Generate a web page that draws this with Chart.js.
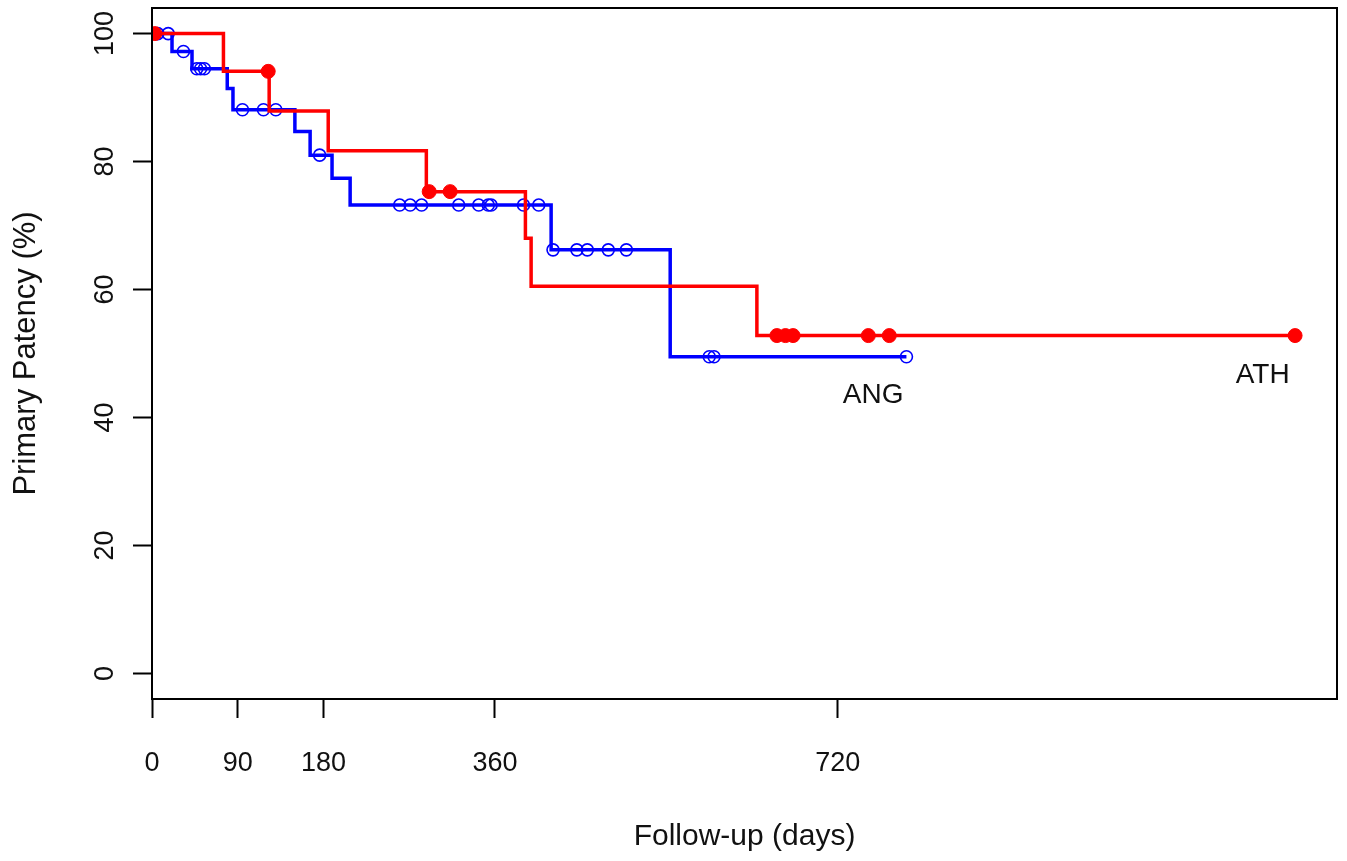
<!DOCTYPE html>
<html><head><meta charset="utf-8">
<script src="https://cdn.jsdelivr.net/npm/chart.js@4.4.0/dist/chart.umd.min.js"></script>
<style>html,body{margin:0;padding:0;background:#fff;}#wrap{width:1347px;height:861px;}</style>
</head><body><div id="wrap"><canvas id="c" width="1347" height="861"></canvas></div>
<script>
// ---- data ----
const xTickValues = [0, 90, 180, 360, 720];
const yTickValues = [0, 20, 40, 60, 80, 100];

const athEventDays = [0, 75, 123, 185, 288, 392, 398, 635, 1200];
const athSurvival  = [100, 94.1, 87.9, 81.7, 75.3, 68.0, 60.5, 52.8, 52.8];
const athCensorDays = [3, 122, 291, 313, 656, 665, 673, 752, 774, 1200];

const angEventDays = [0, 21, 42, 79, 85, 150, 166, 189, 208, 419, 544, 792];
const angSurvival  = [100, 97.2, 94.5, 91.4, 88.1, 84.7, 81.0, 77.4, 73.2, 66.2, 49.5, 49.5];
const angCensorDays = [6, 17, 33, 47, 51, 55, 95, 117, 130, 176, 260, 271, 283, 322, 343, 353, 356, 390, 406, 421, 446, 457, 479, 498, 585, 590, 792];

const groupNames = ['ANG', 'ATH'];

// ---- helpers ----
function stepPoints(days, surv) { return days.map((d, i) => ({x: d, y: surv[i]})); }
function survAt(days, surv, t) {
  let s = surv[0];
  for (let i = 0; i < days.length; i++) { if (days[i] <= t) s = surv[i]; }
  return s;
}
function censorPoints(cdays, days, surv) { return cdays.map(t => ({x: t, y: survAt(days, surv, t)})); }

const FONT = "'Liberation Sans', Arial, sans-serif";
const RED = '#ff0000', BLUE = '#0000ff';

const boxAndLabels = {
  id: 'boxAndLabels',
  afterDraw(chart) {
    const {ctx, chartArea: a, scales: {x, y}} = chart;
    ctx.save();
    ctx.strokeStyle = '#000';
    ctx.lineWidth = 2;
    ctx.strokeRect(a.left, a.top, a.right - a.left, a.bottom - a.top);
    ctx.fillStyle = '#111';
    ctx.font = "28px " + FONT;
    ctx.textAlign = 'center';
    ctx.textBaseline = 'middle';
    ctx.fillText(groupNames[0], x.getPixelForValue(757), y.getPixelForValue(43.4));
    ctx.fillText(groupNames[1], x.getPixelForValue(1166), y.getPixelForValue(46.6));
    ctx.restore();
  }
};

function noPad(s) { s.paddingTop = 0; s.paddingBottom = 0; s.paddingLeft = 0; s.paddingRight = 0; }

new Chart(document.getElementById('c'), {
  type: 'line',
  data: {
    datasets: [
      { label: 'ATH censored', data: censorPoints(athCensorDays, athEventDays, athSurvival), showLine: false,
        pointStyle: 'circle', pointRadius: 7, pointBackgroundColor: RED, pointBorderColor: RED, pointBorderWidth: 1, order: 0 },
      { label: 'ATH', data: stepPoints(athEventDays, athSurvival), stepped: 'before', borderColor: RED,
        borderWidth: 3.5, pointRadius: 0, fill: false, order: 1 },
      { label: 'ANG censored', data: censorPoints(angCensorDays, angEventDays, angSurvival), showLine: false,
        pointStyle: 'circle', pointRadius: 6, pointBackgroundColor: 'rgba(0,0,0,0)', pointBorderColor: BLUE, pointBorderWidth: 1.6, order: 2 },
      { label: 'ANG', data: stepPoints(angEventDays, angSurvival), stepped: 'before', borderColor: BLUE,
        borderWidth: 3.5, pointRadius: 0, fill: false, order: 3 }
    ]
  },
  options: {
    responsive: false,
    animation: false,
    devicePixelRatio: 1,
    layout: { padding: { left: 0, right: 10, top: 8, bottom: 0 } },
    plugins: { legend: { display: false }, tooltip: { enabled: false } },
    scales: {
      x: {
        type: 'linear', min: 0, max: 1244,
        afterBuildTicks: s => { s.ticks = xTickValues.map(v => ({value: v})); },
        afterFit: s => { s.height = 162; noPad(s); },
        grid: { drawOnChartArea: false, drawTicks: true, tickLength: 19, tickWidth: 2, tickColor: '#000' },
        border: { display: true, color: '#000', width: 2 },
        ticks: { font: { family: FONT, size: 27 }, color: '#111', padding: 29, maxRotation: 0, autoSkip: false },
        title: { display: true, text: 'Follow-up (days)', color: '#111', font: { family: FONT, size: 30 }, padding: { top: 0, bottom: 6 } }
      },
      y: {
        type: 'linear', min: -4, max: 104,
        afterBuildTicks: s => { s.ticks = yTickValues.map(v => ({value: v})); },
        afterFit: s => { s.width = 152; noPad(s); },
        grid: { drawOnChartArea: false, drawTicks: true, tickLength: 19, tickWidth: 2, tickColor: '#000' },
        border: { display: true, color: '#000', width: 2 },
        ticks: { font: { family: FONT, size: 27 }, color: '#111', padding: 5, minRotation: 90, maxRotation: 90, crossAlign: 'center', autoSkip: false },
        title: { display: true, text: 'Primary Patency (%)', color: '#111', font: { family: FONT, size: 31 }, padding: { top: 8, bottom: 0 } }
      }
    }
  },
  plugins: [boxAndLabels]
});
</script>
</body></html>
